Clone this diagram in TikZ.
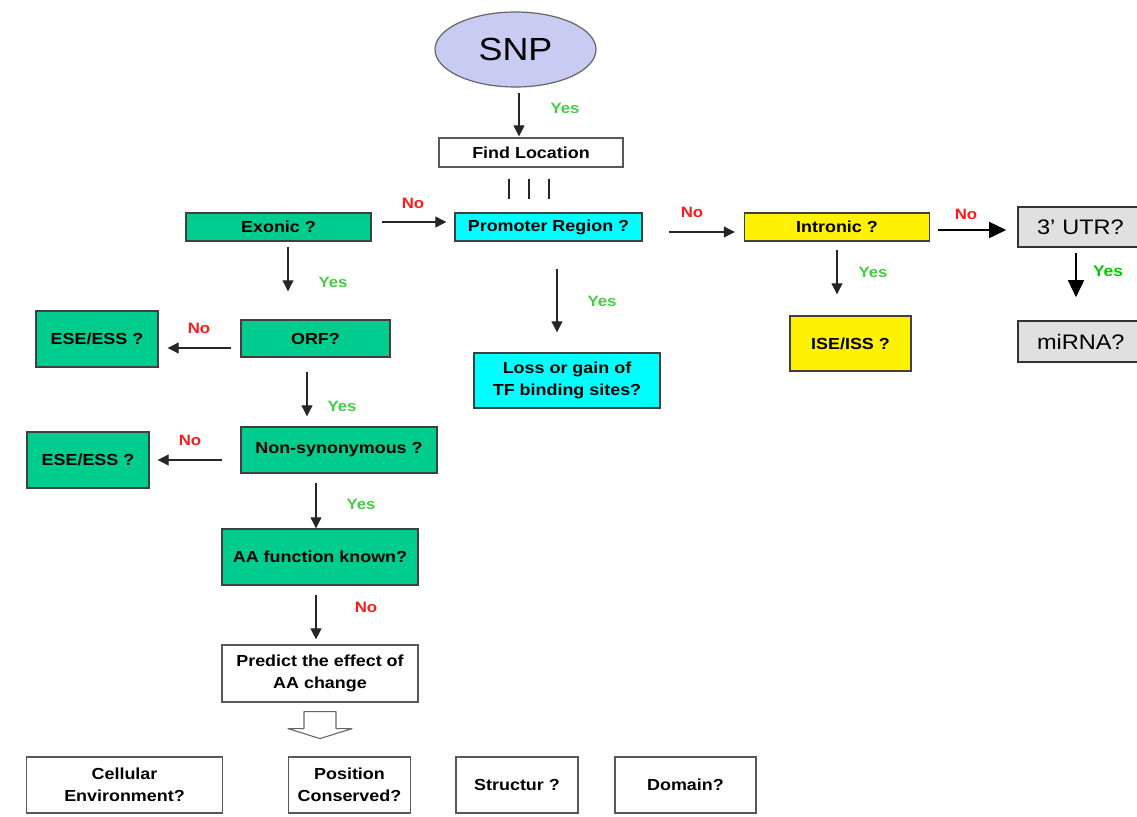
\documentclass[tikz,border=0pt]{standalone}
\usepackage{fontspec}
\setmainfont{Liberation Sans}[FakeStretch=1.12]
\usetikzlibrary{arrows.meta,shapes.geometric}
\definecolor{teal}{HTML}{00CC8E}
\definecolor{aqua}{HTML}{00FFFF}
\definecolor{lav}{HTML}{C8CCF2}
\definecolor{utrgray}{HTML}{E0E0E0}
\definecolor{bord}{HTML}{404040}
\definecolor{yesgreen}{HTML}{46CC46}
\definecolor{yesdark}{HTML}{00C800}
\definecolor{nored}{HTML}{FF1A1A}
\tikzset{
  box/.style={draw=bord, line width=1.4pt, inner sep=0pt, align=center,
    font=\fontsize{16}{22}\selectfont\bfseries},
  greenbox/.style={box, fill=teal},
  cyanbox/.style={box, fill=aqua},
  yellowbox/.style={box, fill=yellow},
  whitebox/.style={box, fill=white, draw=black!65, line width=1.2pt},
  graybox/.style={draw=black!80, line width=1.6pt, fill=utrgray, inner sep=0pt,
    font=\fontsize{21}{25}\selectfont},
  arr/.style={draw=black!85, line width=1.1pt, -{Triangle[length=11pt,width=11pt]}},
  bigarr/.style={draw=black, line width=1.6pt, -{Triangle[length=17pt,width=16pt]}},
  tick/.style={draw=black!85, line width=1.1pt},
  yes/.style={text=yesgreen, font=\fontsize{15}{18}\selectfont\bfseries},
  yesd/.style={text=yesdark, font=\fontsize{15.5}{18}\selectfont\bfseries},
  no/.style={text=nored, font=\fontsize{15}{18}\selectfont\bfseries},
}
\begin{document}
\begin{tikzpicture}[x=1pt,y=-1pt]
\useasboundingbox[fill=white] (0,0) rectangle (1137,816);

% nodes
\node[ellipse, draw=black!60, line width=1.2pt, fill=lav, minimum width=161pt, minimum height=75pt,
  inner sep=0pt, font=\fontsize{32}{36}\selectfont] (snp) at (515.5,49.5) {SNP};
\node[whitebox, minimum width=184pt, minimum height=29pt] (find) at (531,152.5) {Find Location};
\node[greenbox, minimum width=185pt, minimum height=28pt] (exon) at (278.5,227) {Exonic ?};
\node[cyanbox, minimum width=187pt, minimum height=28pt] (prom) at (548.5,227) {Promoter Region ?};
\node[yellowbox, minimum width=185pt, minimum height=28pt] (intr) at (837,227) {Intronic ?};
\node[graybox, minimum width=128pt, minimum height=40pt, text width=90pt, align=left] (utr) at (1082,227) {3’ UTR?};
\node[graybox, minimum width=128pt, minimum height=41pt, text width=90pt, align=left] (mirna) at (1082,341.5) {miRNA?};
\node[yellowbox, minimum width=121pt, minimum height=55pt] (ise) at (850.5,343.5) {ISE/ISS ?};
\node[cyanbox, minimum width=186pt, minimum height=55pt] (loss) at (567,380.5) {Loss or gain of\\TF binding sites?};
\node[greenbox, minimum width=149pt, minimum height=37pt] (orf) at (315.5,338.5) {ORF?};
\node[greenbox, minimum width=122pt, minimum height=56pt] (ese1) at (97,339) {ESE/ESS ?};
\node[greenbox, minimum width=196pt, minimum height=46pt] (nons) at (339,450) {Non-synonymous ?};
\node[greenbox, minimum width=122pt, minimum height=56pt] (ese2) at (88,460) {ESE/ESS ?};
\node[greenbox, minimum width=196pt, minimum height=56pt] (aa) at (320,557) {AA function known?};
\node[whitebox, minimum width=196pt, minimum height=57pt] (pred) at (320,673.5) {Predict the effect of\\AA change};
\node[whitebox, minimum width=196pt, minimum height=56pt] (cell) at (124.5,785) {Cellular\\Environment?};
\node[whitebox, minimum width=122pt, minimum height=56pt] (pos) at (349.5,785) {Position\\Conserved?};
\node[whitebox, minimum width=122pt, minimum height=56pt] (struc) at (517,785) {Structur ?};
\node[whitebox, minimum width=141pt, minimum height=56pt] (dom) at (685.5,785) {Domain?};

% connectors
\draw[arr, shorten <=5pt, shorten >=1pt] ([xshift=3.5pt]snp.south) -- ([xshift=-12pt]find.north);
\draw[tick, shorten <=11pt, shorten >=13pt] ([xshift=-22pt]find.south) -- ([xshift=-39.5pt]prom.north);
\draw[tick, shorten <=11pt, shorten >=13pt] ([xshift=-2pt]find.south) -- ([xshift=-19.5pt]prom.north);
\draw[tick, shorten <=11pt, shorten >=13pt] ([xshift=18pt]find.south) -- ([xshift=0.5pt]prom.north);
\draw[arr, shorten <=10pt, shorten >=8pt] ([yshift=5pt]exon.east) -- ([yshift=5pt]prom.west);
\draw[arr, shorten <=26pt, shorten >=9pt] ([yshift=-5pt]prom.east) -- ([yshift=-5pt]intr.west);
\draw[bigarr, shorten <=8pt, shorten >=11pt] ([yshift=-3pt]intr.east) -- ([yshift=-3pt]utr.west);
\draw[bigarr, shorten <=5pt, shorten >=23pt] ([xshift=-6pt]utr.south) -- ([xshift=-6pt]mirna.north);
\draw[arr, shorten <=8pt, shorten >=21pt] (intr.south) -- ([xshift=-13.5pt]ise.north);
\draw[arr, shorten <=27pt, shorten >=20pt] ([xshift=8.5pt]prom.south) -- ([xshift=-10pt]loss.north);
\draw[arr, shorten <=5pt, shorten >=28pt] ([xshift=9.5pt]exon.south) -- ([xshift=-27.5pt]orf.north);
\draw[arr, shorten <=9pt, shorten >=9pt] ([yshift=-9.5pt]orf.west) -- ([yshift=-9pt]ese1.east);
\draw[arr, shorten <=14pt, shorten >=10pt] ([xshift=-8.5pt]orf.south) -- ([xshift=-32pt]nons.north);
\draw[arr, shorten <=18pt, shorten >=8pt] ([yshift=-10pt]nons.west) -- (ese2.east);
\draw[arr, shorten <=9pt, shorten >=0pt] ([xshift=-23pt]nons.south) -- ([xshift=-4pt]aa.north);
\draw[arr, shorten <=9pt, shorten >=5pt] ([xshift=-4pt]aa.south) -- ([xshift=-4pt]pred.north);

% block arrow below "Predict"
\draw[draw=black!60, line width=1.1pt, fill=white, line join=round]
  ([xshift=-16pt,yshift=-9pt]pred.south) -- ([xshift=16pt,yshift=-9pt]pred.south)
  -- ([xshift=16pt,yshift=-26pt]pred.south) -- ([xshift=32pt,yshift=-26pt]pred.south)
  -- ([yshift=-36pt]pred.south) -- ([xshift=-32pt,yshift=-26pt]pred.south)
  -- ([xshift=-16pt,yshift=-26pt]pred.south) -- cycle;

% labels
\node[yes] (y1) at (565,108) {Yes};
\node[no] (n1) at (413,203) {No};
\node[no] (n2) at (692,212) {No};
\node[no] (n3) at (966,214) {No};
\node[yesd] (y2) at (1108,271) {Yes};
\node[yes] (y3) at (873,272) {Yes};
\node[yes] (y4) at (602,301) {Yes};
\node[yes] (y5) at (333,282) {Yes};
\node[no] (n4) at (199,328) {No};
\node[yes] (y6) at (342,406) {Yes};
\node[no] (n5) at (190,440) {No};
\node[yes] (y7) at (361,504) {Yes};
\node[no] (n6) at (366,607) {No};
\end{tikzpicture}
\end{document}
